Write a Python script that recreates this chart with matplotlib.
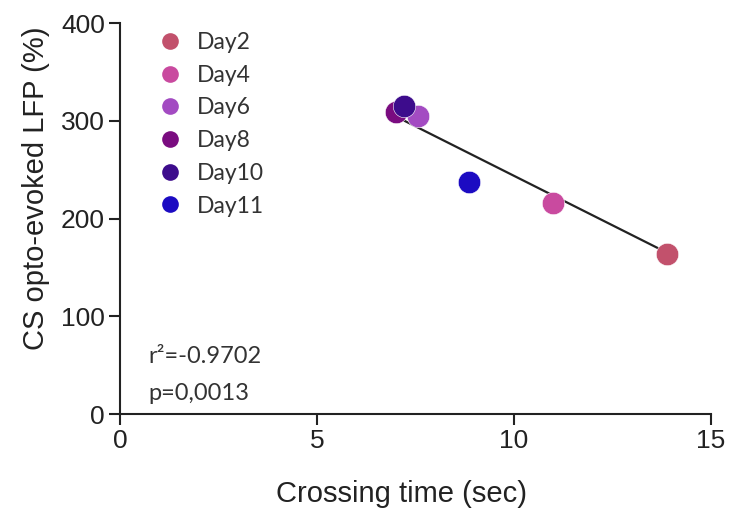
import numpy as np
import matplotlib
matplotlib.use('Agg')
import matplotlib.pyplot as plt
from matplotlib.lines import Line2D

# data
days = ['Day2', 'Day4', 'Day6', 'Day8', 'Day10', 'Day11']
crossing_time = [13.88, 10.99, 7.56, 7.00, 7.20, 8.86]
lfp = [164, 216, 305, 309, 315, 237]
colors = ['#C2516C', '#C94A9F', '#A34BC2', '#7A0C80', '#3D0C8C', '#1C0BC2']

# regression line ends
fit_x = [7.0, 13.91]
fit_y = [304.6, 164.7]

stats_text = ['r\u00b2=-0.9702', 'p=0,0013']

fig = plt.figure(figsize=(7.32, 5.15), dpi=100)
ax = fig.add_axes([0.164, 0.196, 0.807, 0.759])

ax.plot(fit_x, fit_y, color='#222222', lw=1.6, zorder=2)
for x, y, c in zip(crossing_time, lfp, colors):
    ax.scatter(x, y, s=260, color=c, edgecolor='white', linewidth=0.4, zorder=3)

ax.set_xlim(0, 15)
ax.set_ylim(0, 400)
ax.set_xticks([0, 5, 10, 15])
ax.set_yticks([0, 100, 200, 300, 400])
ax.spines['top'].set_visible(False)
ax.spines['right'].set_visible(False)
for s in ['left', 'bottom']:
    ax.spines[s].set_linewidth(1.5)
    ax.spines[s].set_color('#222222')
ax.tick_params(length=8, width=1.5, color='#222222', labelsize=19,
               labelcolor='#222222', pad=3)
for lab in ax.get_xticklabels() + ax.get_yticklabels():
    lab.set_family('Liberation Sans')
ax.set_xlabel('Crossing time (sec)', fontsize=21, family='Liberation Sans',
              color='#222222')
ax.xaxis.set_label_coords(0.477, -0.168)
ax.set_ylabel('CS opto-evoked LFP (%)', fontsize=21, family='Liberation Sans',
              color='#222222')
ax.yaxis.set_label_coords(-0.119, 0.578)

handles = [Line2D([], [], marker='o', ls='', markersize=12, color=c,
                  markeredgewidth=0) for c in colors]
leg = ax.legend(handles, days, loc='upper left', bbox_to_anchor=(0.03, 1.03),
                frameon=False, handlelength=1.0, handletextpad=0.7,
                labelspacing=0.51, prop={'family': 'Lato', 'size': 16.5})
for t in leg.get_texts():
    t.set_color('#333333')

ax.text(0.048, 0.13, stats_text[0], transform=ax.transAxes, fontsize=17,
        family=['Lato', 'DejaVu Sans'], color='#333333')
ax.text(0.048, 0.035, stats_text[1], transform=ax.transAxes, fontsize=17,
        family=['Lato', 'DejaVu Sans'], color='#333333')

fig.savefig('out.png', dpi=100)
